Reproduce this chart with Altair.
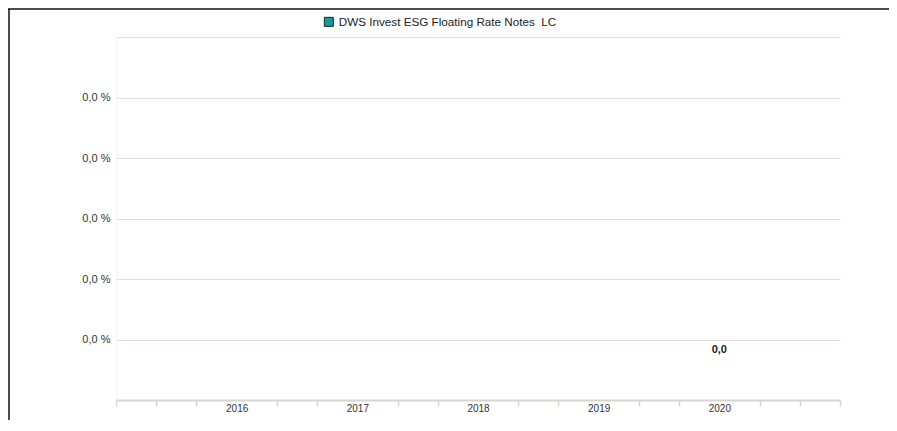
import altair as alt
import pandas as pd

# ---- data ----
years = [2016, 2017, 2018, 2019, 2020]
fund_values = [None, None, None, None, 0.0]
series_name = "DWS Invest ESG Floating Rate Notes\u00a0 LC"
y_ticks = [0.0, 0.01, 0.02, 0.03, 0.04, 0.05]
y_domain = [-0.01, 0.05]
x_domain = [2015, 2021]
x_ticks = [round(2015 + k / 3, 4) for k in range(19)]

FONT = "Liberation Sans, Arial, sans-serif"
GRID = "#e3e0da"
AXIS = "#d9d5cc"
TEAL = "#129c9c"

df = pd.DataFrame({"year": years, "value": fund_values, "series": [series_name] * len(years)})

x_enc = alt.X(
    "year:Q",
    scale=alt.Scale(domain=x_domain, nice=False, zero=False, padding=0),
    axis=alt.Axis(
        values=x_ticks,
        title=None,
        grid=False,
        labelExpr="(datum.value % 1 === 0 && datum.value > 2015 && datum.value < 2021) ? toString(datum.value) : ''",
        labelOverlap=False,
        labelFlush=False,
        labelFont=FONT,
        labelFontSize=10,
        labelColor="#333333",
        labelPadding=-3,
        tickSize=6,
        tickWidth=1.5,
        tickColor=AXIS,
        tickOpacity={
            "condition": {
                "test": "datum.value % 1 === 0 && datum.value > 2015 && datum.value < 2021",
                "value": 0,
            },
            "value": 1,
        },
        domainColor=AXIS,
        domainWidth=2,
    ),
)

y_enc = alt.Y(
    "value:Q",
    scale=alt.Scale(domain=y_domain, nice=False, zero=False, padding=0),
    axis=alt.Axis(
        values=y_ticks,
        title=None,
        labelExpr="datum.value >= 0.045 ? '' : replace(format(datum.value, '.1f'), '.', ',') + ' %'",
        ticks=False,
        domainColor="#f3f3f3",
        domainWidth=1,
        gridColor=GRID,
        gridWidth=1.2,
        labelFont=FONT,
        labelFontSize=11,
        labelColor="#333333",
        labelPadding=6,
    ),
)

bars = alt.Chart(df).mark_bar(size=40).encode(
    x=x_enc,
    y=y_enc,
    color=alt.Color(
        "series:N",
        scale=alt.Scale(range=[TEAL]),
        legend=alt.Legend(
            title=None,
            orient="none",
            legendX=207,
            legendY=-21,
            symbolType="square",
            symbolSize=81,
            symbolStrokeColor="#222222",
            symbolStrokeWidth=1,
            labelFont=FONT,
            labelFontSize=11.7,
            labelColor="#222222",
            labelOffset=4,
            labelLimit=0,
        ),
    ),
)

labels = (
    alt.Chart(df)
    .transform_filter("isValid(datum.value)")
    .transform_calculate(lbl="replace(format(datum.value, '.1f'), '.', ',')")
    .mark_text(font=FONT, fontSize=11, fontWeight="bold", color="#222222", dy=10, baseline="middle")
    .encode(x="year:Q", y="value:Q", text="lbl:N")
)

frame_df = pd.DataFrame({"k": [0]})
top_border = alt.Chart(frame_df).mark_rule(color="#111111", strokeWidth=1.5).encode(
    x=alt.value(-108), x2=alt.value(773), y=alt.value(-28)
)
left_border = alt.Chart(frame_df).mark_rule(color="#111111", strokeWidth=1.5).encode(
    x=alt.value(-107), y=alt.value(-28), y2=alt.value(383)
)

chart = (
    alt.layer(bars, labels, top_border, left_border)
    .properties(
        width=724,
        height=363,
        padding={"left": 108, "top": 29, "right": 49, "bottom": 20},
        autosize=alt.AutoSizeParams(type="none"),
        background="white",
    )
    .configure_view(strokeWidth=0)
)

chart.save("out.html", embed_options={"renderer": "svg", "actions": False})
